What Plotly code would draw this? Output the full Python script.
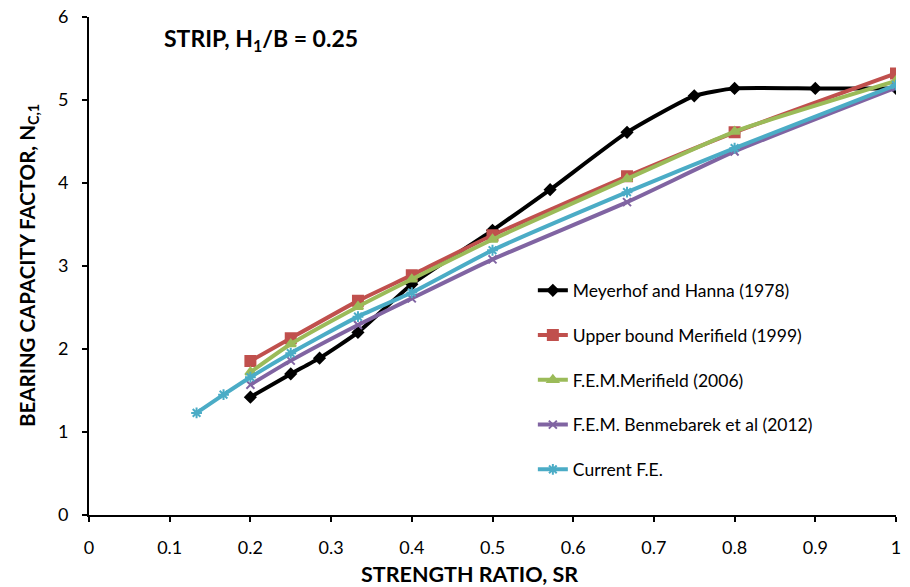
import plotly.graph_objects as go

sr_mh = [0.2, 0.25, 0.2857, 0.3333, 0.4, 0.5, 0.5714, 0.6667, 0.75, 0.8, 0.9, 1.0]
nc_mh = [1.42, 1.70, 1.89, 2.20, 2.78, 3.43, 3.92, 4.61, 5.05, 5.14, 5.14, 5.14]

sr_ub = [0.2, 0.25, 0.3333, 0.4, 0.5, 0.6667, 0.8, 1.0]
nc_ub = [1.855, 2.13, 2.58, 2.89, 3.37, 4.08, 4.61, 5.32]

sr_fm = [0.2, 0.25, 0.3333, 0.4, 0.5, 0.6667, 0.8, 1.0]
nc_fm = [1.72, 2.06, 2.51, 2.84, 3.32, 4.05, 4.62, 5.23]

sr_bm = [0.2, 0.25, 0.3333, 0.4, 0.5, 0.6667, 0.8, 1.0]
nc_bm = [1.57, 1.86, 2.29, 2.61, 3.08, 3.77, 4.38, 5.15]

sr_fe = [0.1333, 0.1667, 0.2, 0.25, 0.3333, 0.4, 0.5, 0.6667, 0.8, 1.0]
nc_fe = [1.23, 1.45, 1.66, 1.95, 2.39, 2.68, 3.19, 3.89, 4.42, 5.18]

names = ["Meyerhof and Hanna (1978)", "Upper bound Merifield (1999)",
         "F.E.M.Merifield (2006)", "F.E.M. Benmebarek et al (2012)", "Current F.E."]
colors = ["#000000", "#C0504D", "#9BBB59", "#8064A2", "#4BACC6"]
symbols = ["diamond", "square", "triangle-up", "x-thin-open", "asterisk-open"]
msizes = [8, 10, 9, 8, 9]

xticks = [0, 0.1, 0.2, 0.3, 0.4, 0.5, 0.6, 0.7, 0.8, 0.9, 1]
xticklabels = ["0", "0.1", "0.2", "0.3", "0.4", "0.5", "0.6", "0.7", "0.8", "0.9", "1"]
yticks = [0, 1, 2, 3, 4, 5, 6]

xs = [sr_mh, sr_ub, sr_fm, sr_bm, sr_fe]
ys = [nc_mh, nc_ub, nc_fm, nc_bm, nc_fe]

fig = go.Figure()
for i in range(5):
    fig.add_trace(go.Scatter(
        x=xs[i], y=ys[i], name=names[i], mode="lines+markers",
        legendgroup=str(i),
        line=dict(color=colors[i], width=4, shape="spline", smoothing=0.5),
        marker=dict(symbol=symbols[i], size=msizes[i], color=colors[i],
                    line=dict(color=colors[i], width=2)),
    ))

font_family = "Lato, 'Open Sans', Arial, sans-serif"

# page body has an 8px margin, so margins compensate for that offset
fig.update_layout(
    width=910, height=587,
    margin=dict(l=81, r=22, t=9, b=80, autoexpand=False),
    plot_bgcolor="white", paper_bgcolor="white",
    font=dict(family=font_family, size=18, color="black"),
    showlegend=True,
    legend=dict(x=0.55, y=0.487, xanchor="left", yanchor="top",
                font=dict(size=17.5, color="black"), tracegroupgap=19,
                bgcolor="rgba(0,0,0,0)"),
    xaxis=dict(range=[0, 1], tickvals=xticks, ticktext=xticklabels, automargin=False,
               showline=True, linecolor="black", linewidth=2, ticks="outside",
               ticklen=5, tickwidth=1.5, tickcolor="black", showgrid=False, zeroline=False,
               ticklabelstandoff=10, ticklabeloverflow="allow", tickfont=dict(size=18)),
    yaxis=dict(range=[0, 6], tickvals=yticks, automargin=False,
               showline=True, linecolor="black", linewidth=2, ticks="outside",
               ticklen=5, tickwidth=1.5, tickcolor="black", showgrid=False, zeroline=False,
               ticklabelstandoff=10, ticklabeloverflow="allow", tickfont=dict(size=18)),
)

fig.add_annotation(x=0.091, y=0.954, xref="paper", yref="paper", xanchor="left", yanchor="middle",
                   text="<b>STRIP, H<sub>1</sub>/B = 0.25</b>", showarrow=False,
                   font=dict(size=23, color="black", family=font_family))
fig.add_annotation(x=0.472, y=-0.118, xref="paper", yref="paper", xanchor="center", yanchor="middle",
                   text="<b>STRENGTH RATIO, SR</b>", showarrow=False,
                   font=dict(size=21.5, color="black", family=font_family))
fig.add_annotation(x=-0.0756, y=0.502, xref="paper", yref="paper", xanchor="center", yanchor="middle",
                   text="<b>BEARING CAPACITY FACTOR, N<sub>C,1</sub></b>", showarrow=False, textangle=-90,
                   font=dict(size=20.5, color="black", family=font_family))

fig.write_html("out.html")
